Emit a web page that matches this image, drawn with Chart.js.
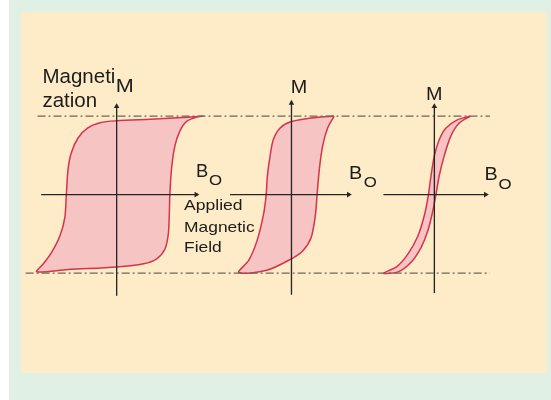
<!DOCTYPE html>
<html><head><meta charset="utf-8">
<script src="https://cdn.jsdelivr.net/npm/chart.js@4.4.0/dist/chart.umd.min.js"></script>
<style>
html,body{margin:0;padding:0;background:#fff;}
#wrap{position:relative;width:551px;height:400px;overflow:hidden;background:#fff;}
#green{position:absolute;left:9px;top:0;width:542px;height:400px;background:#e1f0e4;}
#panel{position:absolute;left:21px;top:12px;width:526px;height:361px;background:#fdecc7;}
canvas{position:absolute;left:0;top:0;}
</style></head><body>
<div id="wrap"><div id="green"></div><div id="panel"></div><canvas id="c" width="551" height="400"></canvas></div>
<script>
// ---- Data (applied field B, magnetization M; saturation = ±1) ----
// Loop 1: wide hysteresis (hard magnet)
const loop1B = [1.10, 1.01, 0.43, 0, -0.20, -0.37, -0.49, -0.575, -0.616, -0.638, -0.658, -0.72, -0.825, -0.929, -1.0125,
                -0.616, 0, 0.343, 0.509, 0.613, 0.655, 0.668, 0.675, 0.696, 0.738, 0.80, 0.884, 1.03, 1.10];
const loop1M = [1.00, 0.99, 0.96, 0.94, 0.917, 0.846, 0.721, 0.534, 0.327, 0, -0.297, -0.527, -0.735, -0.88, -0.983,
                -0.954, -0.921, -0.88, -0.817, -0.692, -0.505, -0.256, 0, 0.327, 0.618, 0.805, 0.93, 0.992, 1.00];
// Loop 2: medium hysteresis
const loop2B = [0.541, 0.3125, 0, -0.146, -0.23, -0.271, -0.305, -0.321, -0.355, -0.4375, -0.5425, -0.6675,
                -0.3125, 0, 0.145, 0.25, 0.304, 0.325, 0.354, 0.395, 0.4575, 0.541];
const loop2M = [1.0, 0.983, 0.93, 0.846, 0.701, 0.493, 0.243, 0, -0.256, -0.589, -0.838, -0.992,
                -0.963, -0.817, -0.714, -0.546, -0.256, 0, 0.327, 0.618, 0.846, 1.0];
// Loop 3: narrow hysteresis (soft magnet)
const loop3B = [0.4575, 0.291, 0.145, 0.0625, 0, -0.0425, -0.075, -0.125, -0.209, -0.334, -0.48, -0.646,
                -0.459, -0.2925, -0.1675, -0.084, -0.021, 0.02, 0.0625, 0.125, 0.2075, 0.3125, 0.4575];
const loop3M = [1.0, 0.951, 0.846, 0.701, 0.493, 0.243, 0, -0.256, -0.527, -0.755, -0.921, -1.0,
                -0.983, -0.858, -0.671, -0.464, -0.215, 0, 0.243, 0.493, 0.742, 0.908, 1.0];
// Axes extents per panel: vertical M range, horizontal B range
const vAxisM = [[-1.288, 1.123], [-1.275, 1.166], [-1.254, 1.123]];
const hAxisB = [[-0.9575, 1.009], [-0.78, 0.725], [-0.646, 0.65]];
// Saturation levels (dash-dot lines), drawn on panel-1 field scale
const satM = [1, -1];
const satTopB = [-1.004, 4.734];
const satBotB = [-1.154, 4.734];

// ---- Build datasets ----
const pts = (bs, ms) => bs.map((b, i) => ({x: b, y: ms[i]}));
const loopStyle = {showLine: true, fill: 'shape', backgroundColor: '#f6c4c3', borderColor: '#d6334d',
  borderWidth: 1.5, pointRadius: 0, tension: 0.3, order: 3};
const axisStyle = {showLine: true, borderColor: '#262626', borderWidth: 1.35, pointStyle: 'triangle',
  pointBackgroundColor: '#262626', pointBorderWidth: 0, pointRadius: [0, 3.2], order: 1};
const scaleIds = ['x1', 'x2', 'x3'];
const datasets = [];
[[loop1B, loop1M], [loop2B, loop2M], [loop3B, loop3M]].forEach((l, i) => {
  datasets.push(Object.assign({xAxisID: scaleIds[i], data: pts(l[0], l[1])}, loopStyle));
});
scaleIds.forEach((id, i) => {
  datasets.push(Object.assign({xAxisID: id, data: [{x: 0, y: vAxisM[i][0]}, {x: 0, y: vAxisM[i][1]}], pointRotation: 0}, axisStyle));
  datasets.push(Object.assign({xAxisID: id, data: [{x: hAxisB[i][0], y: 0}, {x: hAxisB[i][1], y: 0}], pointRotation: 90}, axisStyle));
});
[[satTopB, satM[0]], [satBotB, satM[1]]].forEach(s => {
  datasets.push({xAxisID: 'x1', showLine: true, data: [{x: s[0][0], y: s[1]}, {x: s[0][1], y: s[1]}],
    borderColor: '#6e6557', borderWidth: 1.3, borderDash: [8, 3, 2, 3], pointRadius: 0, order: 2});
});

// ---- Text labels (layout) ----
const labels = [
  {t: 'Magneti', s: 'x1', x: -0.941, y: 1.42, size: 20.5, k: 1},
  {t: 'zation', s: 'x1', x: -0.941, y: 1.117, size: 20.5, k: 1},
  {t: 'M', s: 'x1', x: -0.0125, y: 1.304, size: 18, k: 1.2},
  {t: 'M', s: 'x2', x: -0.009, y: 1.291, size: 18, k: 1.1},
  {t: 'M', s: 'x3', x: -0.105, y: 1.2, size: 18, k: 1.1},
  {t: 'B', s: 'x1', x: 1.005, y: 0.222, size: 18, k: 1.02},
  {t: 'O', s: 'x1', x: 1.17, y: 0.1185, size: 15, k: 1.12},
  {t: 'B', s: 'x2', x: 0.729, y: 0.193, size: 18, k: 1.1},
  {t: 'O', s: 'x2', x: 0.916, y: 0.10, size: 15, k: 1.12},
  {t: 'B', s: 'x3', x: 0.6375, y: 0.181, size: 18, k: 1.1},
  {t: 'O', s: 'x3', x: 0.8125, y: 0.077, size: 15, k: 1.12},
  {t: 'Applied', s: 'x1', x: 0.855, y: -0.193, size: 15, k: 1.17},
  {t: 'Magnetic', s: 'x1', x: 0.855, y: -0.477, size: 15, k: 1.16},
  {t: 'Field', s: 'x1', x: 0.855, y: -0.734, size: 15, k: 1.16}
];
const textPlugin = {
  id: 'texts',
  afterDatasetsDraw(chart) {
    const ctx = chart.ctx;
    labels.forEach(l => {
      const px = chart.scales[l.s].getPixelForValue(l.x);
      const py = chart.scales.y.getPixelForValue(l.y);
      ctx.save();
      ctx.fillStyle = '#1c1c1c';
      ctx.font = l.size + 'px "Liberation Sans", Arial, sans-serif';
      ctx.textBaseline = 'alphabetic';
      ctx.textAlign = 'left';
      ctx.translate(px, py);
      ctx.scale(l.k, 1);
      ctx.fillText(l.t, 0, 0);
      ctx.restore();
    });
  }
};

new Chart(document.getElementById('c'), {
  type: 'scatter',
  data: {datasets},
  options: {
    responsive: false, animation: false, events: [],
    layout: {padding: 0},
    plugins: {legend: {display: false}, tooltip: {enabled: false}},
    scales: {
      x1: {type: 'linear', min: -1.4288, max: 5.4587, display: false},
      x2: {type: 'linear', min: -3.6463, max: 3.2412, display: false},
      x3: {type: 'linear', min: -5.4588, max: 1.4287, display: false},
      y: {type: 'linear', min: -2.5639, max: 2.4267, display: false}
    }
  },
  plugins: [textPlugin]
});
</script>
</body></html>
